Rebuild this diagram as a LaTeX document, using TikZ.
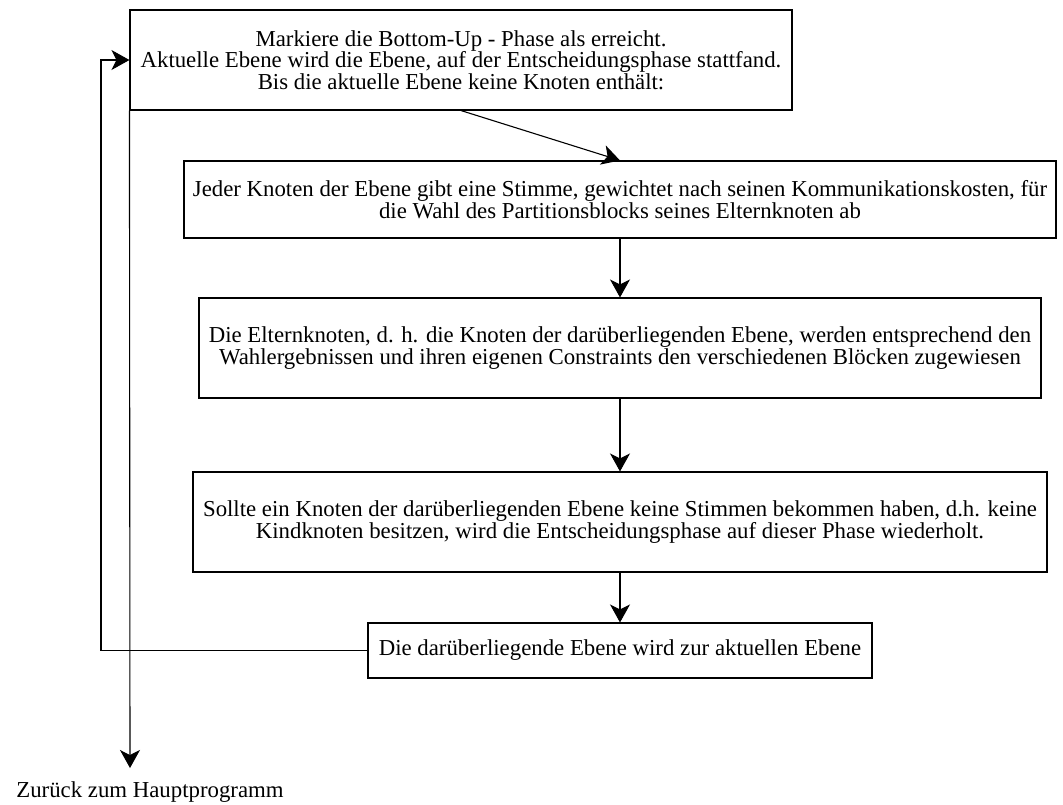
\documentclass[tikz,border=0pt]{standalone}
\usepackage{fontspec}
\setmainfont{Liberation Serif}
\usetikzlibrary{arrows.meta}
\begin{document}
\begin{tikzpicture}[x=1pt,y=-1pt,
  stepbox/.style={draw=black, line width=1.1pt, inner sep=0pt, align=center,
    font=\fontsize{22.8}{21.6}\selectfont},
  tip/.tip={Stealth[length=18pt,width=20pt,inset=5pt]},
  flow/.style={line width=1.1pt, -tip}]
\useasboundingbox (0,0) rectangle (1063,804);

% process steps
\node[stepbox, minimum width=662, minimum height=100] (b1) at (461,60)
  {Markiere die Bottom-Up - Phase als erreicht.\\
   Aktuelle Ebene wird die Ebene, auf der Entscheidungsphase stattfand.\\
   Bis die aktuelle Ebene keine Knoten enthält:};
\node[stepbox, minimum width=872, minimum height=77] (b2) at (620,199.5)
  {Jeder Knoten der Ebene gibt eine Stimme, gewichtet nach seinen Kommunikationskosten, für\\
   die Wahl des Partitionsblocks seines Elternknoten ab};
\node[stepbox, minimum width=842, minimum height=100] (b3) at (620,348)
  {Die Elternknoten, d. h. die Knoten der darüberliegenden Ebene, werden entsprechend den\\
   Wahlergebnissen und ihren eigenen Constraints den verschiedenen Blöcken zugewiesen};
\node[stepbox, minimum width=854, minimum height=100] (b4) at (620,522)
  {Sollte ein Knoten der darüberliegenden Ebene keine Stimmen bekommen haben, d.h. keine\\
   Kindknoten besitzen, wird die Entscheidungsphase auf dieser Phase wiederholt.};
\node[stepbox, minimum width=504, minimum height=55] (b5) at (620,650.5)
  {Die darüberliegende Ebene wird zur aktuellen Ebene};

% exit
\coordinate (ret) at (130,768);
\node[font=\fontsize{22.8}{21.6}\selectfont, inner sep=0pt, anchor=base] (exit) at (150,797)
  {Zurück zum Hauptprogramm};

% connectors
\draw[flow] (b1.south) -- (b2.north);
\draw[flow] (b2.south) -- (b3.north);
\draw[flow] (b3.south) -- (b4.north);
\draw[flow] (b4.south) -- (b5.north);
\coordinate (loop) at (101,650.5);
\draw[flow] (b5.west) -- (loop) |- (b1.west);
\draw[flow] (b1.south west) -- (ret);
\end{tikzpicture}
\end{document}
